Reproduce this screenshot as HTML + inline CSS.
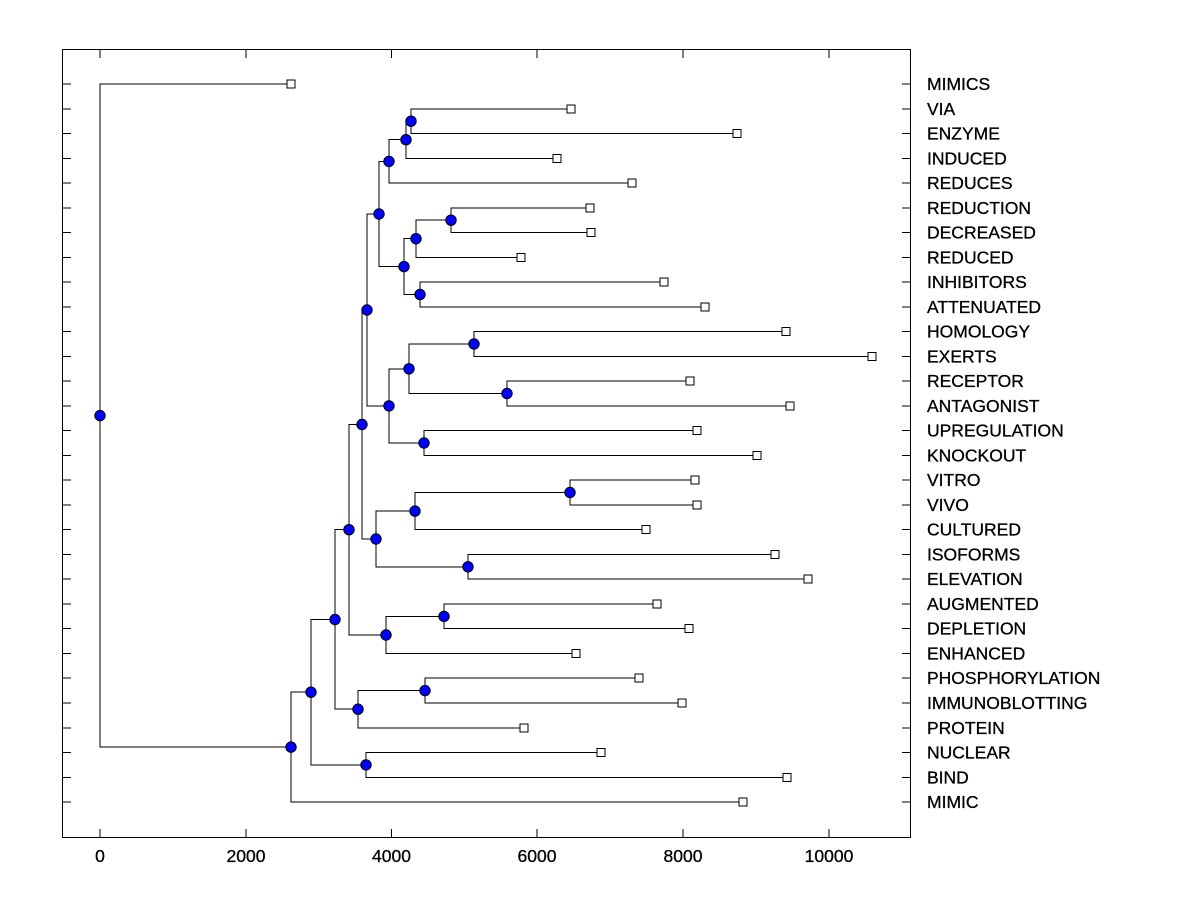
<!DOCTYPE html>
<html><head><meta charset="utf-8"><style>
body{margin:0;background:#fff}
svg{display:block}
text{font-family:"Liberation Sans",Arial,sans-serif;font-size:17.5px;fill:#000;stroke:#000;stroke-width:0.3px}
</style></head><body>
<svg width="1200" height="900" viewBox="0 0 1200 900">
<g shape-rendering="crispEdges">
<rect x="62.5" y="49.5" width="848" height="788" fill="none" stroke="#000" stroke-width="1"/>
<g stroke="#000" stroke-width="1">
<path d="M100 837.5V829M246 837.5V829M391.5 837.5V829M537 837.5V829M683 837.5V829M829 837.5V829M100 49.5V58M246 49.5V58M391.5 49.5V58M537 49.5V58M683 49.5V58M829 49.5V58"/>
<path d="M62.5 84H71M62.5 108.8H71M62.5 133.5H71M62.5 158.3H71M62.5 183H71M62.5 207.8H71M62.5 232.6H71M62.5 257.3H71M62.5 282.1H71M62.5 306.8H71M62.5 331.6H71M62.5 356.4H71M62.5 381.1H71M62.5 405.9H71M62.5 430.6H71M62.5 455.4H71M62.5 480.2H71M62.5 504.9H71M62.5 529.7H71M62.5 554.4H71M62.5 579.2H71M62.5 604H71M62.5 628.7H71M62.5 653.5H71M62.5 678.2H71M62.5 703H71M62.5 727.8H71M62.5 752.5H71M62.5 777.3H71M62.5 802H71"/>
<path d="M910.5 84H902M910.5 108.8H902M910.5 133.5H902M910.5 158.3H902M910.5 183H902M910.5 207.8H902M910.5 232.6H902M910.5 257.3H902M910.5 282.1H902M910.5 306.8H902M910.5 331.6H902M910.5 356.4H902M910.5 381.1H902M910.5 405.9H902M910.5 430.6H902M910.5 455.4H902M910.5 480.2H902M910.5 504.9H902M910.5 529.7H902M910.5 554.4H902M910.5 579.2H902M910.5 604H902M910.5 628.7H902M910.5 653.5H902M910.5 678.2H902M910.5 703H902M910.5 727.8H902M910.5 752.5H902M910.5 777.3H902M910.5 802H902"/>
</g>
<g fill="none" stroke="#000" stroke-width="1">
<path d="M291 84H100V747.1H291"/>
<path d="M311 692.2H291V802H743"/>
<path d="M335 619.5H311V764.9H366"/>
<path d="M601 752.5H366V777.3H787"/>
<path d="M349 529.7H335V709.2H358"/>
<path d="M425 690.6H358V727.8H524"/>
<path d="M639 678.2H425V703H682"/>
<path d="M362 424.5H349V635H386"/>
<path d="M444 616.4H386V653.5H576"/>
<path d="M657 604H444V628.7H689"/>
<path d="M367 310H362V539H376"/>
<path d="M415 511.1H376V566.8H468"/>
<path d="M775 554.4H468V579.2H808"/>
<path d="M570 492.5H415V529.7H646"/>
<path d="M695 480.2H570V504.9H697"/>
<path d="M379 214H367V405.9H389"/>
<path d="M409 368.8H389V443H424"/>
<path d="M697 430.6H424V455.4H757"/>
<path d="M474 344H409V393.5H507"/>
<path d="M786 331.6H474V356.4H872"/>
<path d="M690 381.1H507V405.9H790"/>
<path d="M389 161.4H379V266.6H404"/>
<path d="M406 139.7H389V183H632"/>
<path d="M411 121.2H406V158.3H557"/>
<path d="M571 108.8H411V133.5H737"/>
<path d="M416 238.7H404V294.5H420"/>
<path d="M664 282.1H420V306.8H705"/>
<path d="M451 220.2H416V257.3H521"/>
<path d="M590 207.8H451V232.6H591"/>
</g>
<g fill="#fff" stroke="#000" stroke-width="1">
<rect x="287" y="80" width="8" height="8"/>
<rect x="567" y="104.8" width="8" height="8"/>
<rect x="733" y="129.5" width="8" height="8"/>
<rect x="553" y="154.3" width="8" height="8"/>
<rect x="628" y="179" width="8" height="8"/>
<rect x="586" y="203.8" width="8" height="8"/>
<rect x="587" y="228.6" width="8" height="8"/>
<rect x="517" y="253.3" width="8" height="8"/>
<rect x="660" y="278.1" width="8" height="8"/>
<rect x="701" y="302.8" width="8" height="8"/>
<rect x="782" y="327.6" width="8" height="8"/>
<rect x="868" y="352.4" width="8" height="8"/>
<rect x="686" y="377.1" width="8" height="8"/>
<rect x="786" y="401.9" width="8" height="8"/>
<rect x="693" y="426.6" width="8" height="8"/>
<rect x="753" y="451.4" width="8" height="8"/>
<rect x="691" y="476.2" width="8" height="8"/>
<rect x="693" y="500.9" width="8" height="8"/>
<rect x="642" y="525.7" width="8" height="8"/>
<rect x="771" y="550.4" width="8" height="8"/>
<rect x="804" y="575.2" width="8" height="8"/>
<rect x="653" y="600" width="8" height="8"/>
<rect x="685" y="624.7" width="8" height="8"/>
<rect x="572" y="649.5" width="8" height="8"/>
<rect x="635" y="674.2" width="8" height="8"/>
<rect x="678" y="699" width="8" height="8"/>
<rect x="520" y="723.8" width="8" height="8"/>
<rect x="597" y="748.5" width="8" height="8"/>
<rect x="783" y="773.3" width="8" height="8"/>
<rect x="739" y="798" width="8" height="8"/>
</g>
</g>
<g fill="#0000ff" stroke="#000" stroke-width="1">
<circle cx="100" cy="415.6" r="5.2"/>
<circle cx="291" cy="747.1" r="5.2"/>
<circle cx="311" cy="692.2" r="5.2"/>
<circle cx="335" cy="619.5" r="5.2"/>
<circle cx="366" cy="764.9" r="5.2"/>
<circle cx="349" cy="529.7" r="5.2"/>
<circle cx="358" cy="709.2" r="5.2"/>
<circle cx="425" cy="690.6" r="5.2"/>
<circle cx="362" cy="424.5" r="5.2"/>
<circle cx="386" cy="635" r="5.2"/>
<circle cx="444" cy="616.4" r="5.2"/>
<circle cx="367" cy="310" r="5.2"/>
<circle cx="376" cy="539" r="5.2"/>
<circle cx="415" cy="511.1" r="5.2"/>
<circle cx="468" cy="566.8" r="5.2"/>
<circle cx="570" cy="492.5" r="5.2"/>
<circle cx="379" cy="214" r="5.2"/>
<circle cx="389" cy="405.9" r="5.2"/>
<circle cx="409" cy="368.8" r="5.2"/>
<circle cx="424" cy="443" r="5.2"/>
<circle cx="474" cy="344" r="5.2"/>
<circle cx="507" cy="393.5" r="5.2"/>
<circle cx="389" cy="161.4" r="5.2"/>
<circle cx="406" cy="139.7" r="5.2"/>
<circle cx="411" cy="121.2" r="5.2"/>
<circle cx="404" cy="266.6" r="5.2"/>
<circle cx="416" cy="238.7" r="5.2"/>
<circle cx="420" cy="294.5" r="5.2"/>
<circle cx="451" cy="220.2" r="5.2"/>
</g>
<g text-anchor="middle">
<text x="100" y="862">0</text><text x="246" y="862">2000</text><text x="391.5" y="862">4000</text><text x="537" y="862">6000</text><text x="683" y="862">8000</text><text x="829" y="862">10000</text>
</g>
<g>
<text x="927" y="90">MIMICS</text>
<text x="927" y="114.8">VIA</text>
<text x="927" y="139.5">ENZYME</text>
<text x="927" y="164.3">INDUCED</text>
<text x="927" y="189">REDUCES</text>
<text x="927" y="213.8">REDUCTION</text>
<text x="927" y="238.6">DECREASED</text>
<text x="927" y="263.3">REDUCED</text>
<text x="927" y="288.1">INHIBITORS</text>
<text x="927" y="312.8">ATTENUATED</text>
<text x="927" y="337.6">HOMOLOGY</text>
<text x="927" y="362.4">EXERTS</text>
<text x="927" y="387.1">RECEPTOR</text>
<text x="927" y="411.9">ANTAGONIST</text>
<text x="927" y="436.6">UPREGULATION</text>
<text x="927" y="461.4">KNOCKOUT</text>
<text x="927" y="486.2">VITRO</text>
<text x="927" y="510.9">VIVO</text>
<text x="927" y="535.7">CULTURED</text>
<text x="927" y="560.4">ISOFORMS</text>
<text x="927" y="585.2">ELEVATION</text>
<text x="927" y="610">AUGMENTED</text>
<text x="927" y="634.7">DEPLETION</text>
<text x="927" y="659.5">ENHANCED</text>
<text x="927" y="684.2">PHOSPHORYLATION</text>
<text x="927" y="709">IMMUNOBLOTTING</text>
<text x="927" y="733.8">PROTEIN</text>
<text x="927" y="758.5">NUCLEAR</text>
<text x="927" y="783.3">BIND</text>
<text x="927" y="808">MIMIC</text>
</g>
</svg>
</body></html>
